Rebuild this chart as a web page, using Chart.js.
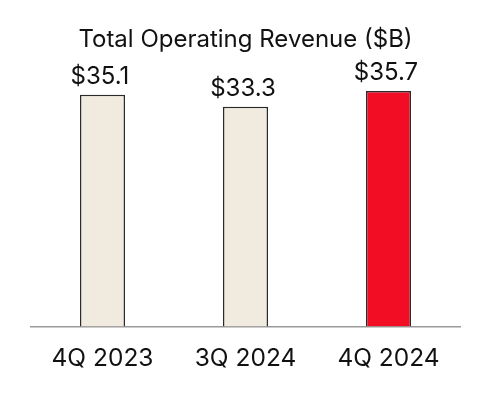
<!DOCTYPE html>
<html>
<head>
<meta charset="utf-8">
<script src="https://cdn.jsdelivr.net/npm/chart.js@4"></script>
<style>
  body { margin: 0; background: #fff; }
  #wrap { width: 490px; height: 400px; }
</style>
</head>
<body>
<div id="wrap"><canvas id="revChart" width="490" height="400"></canvas></div>
<script>
const categories = ['4Q 2023', '3Q 2024', '4Q 2024']
const revenue = [35.1, 33.3, 35.7]
const valueLabels = ['$35.1', '$33.3', '$35.7']
const barColors = ['#f1ebdf', '#f1ebdf', '#f20c24']

const fontFam = 'Inter, "Liberation Sans", Arial, sans-serif'

// draws the "$xx.x" text above each bar
const valueLabelPlugin = {
  id: 'valueLabels',
  afterDatasetsDraw(chart) {
    const ctx = chart.ctx
    const meta = chart.getDatasetMeta(0)
    ctx.save()
    ctx.font = '24px ' + fontFam
    ctx.fillStyle = '#111'
    ctx.textAlign = 'center'
    ctx.textBaseline = 'alphabetic'
    meta.data.forEach((bar, i) => {
      ctx.fillText(valueLabels[i], bar.x - 2.5, bar.y - 11)
    })
    ctx.restore()
  }
}

new Chart(document.getElementById('revChart'), {
  type: 'bar',
  data: {
    labels: categories,
    datasets: [{
      data: revenue,
      backgroundColor: barColors,
      borderColor: '#2a2a2a',
      borderWidth: 1.5,
      barPercentage: 0.315,
      categoryPercentage: 1
    }]
  },
  options: {
    responsive: false,
    animation: false,
    layout: {
      padding: {left: 31, right: 30, top: 25, bottom: 10}
    },
    plugins: {
      legend: {display: false},
      tooltip: {enabled: false},
      title: {
        display: true,
        text: 'Total Operating Revenue ($B)',
        color: '#111',
        font: {family: fontFam, size: 24, weight: 'normal'},
        padding: {top: 0, bottom: 12}
      }
    },
    scales: {
      x: {
        grid: {display: false, drawTicks: false},
        border: {display: true, color: '#9a9a9a', width: 1.5},
        ticks: {
          color: '#111',
          padding: 17,
          font: {family: fontFam, size: 24.5}
        }
      },
      y: {
        display: false,
        min: 0,
        max: 39.5
      }
    }
  },
  plugins: [valueLabelPlugin]
})
</script>
</body>
</html>
